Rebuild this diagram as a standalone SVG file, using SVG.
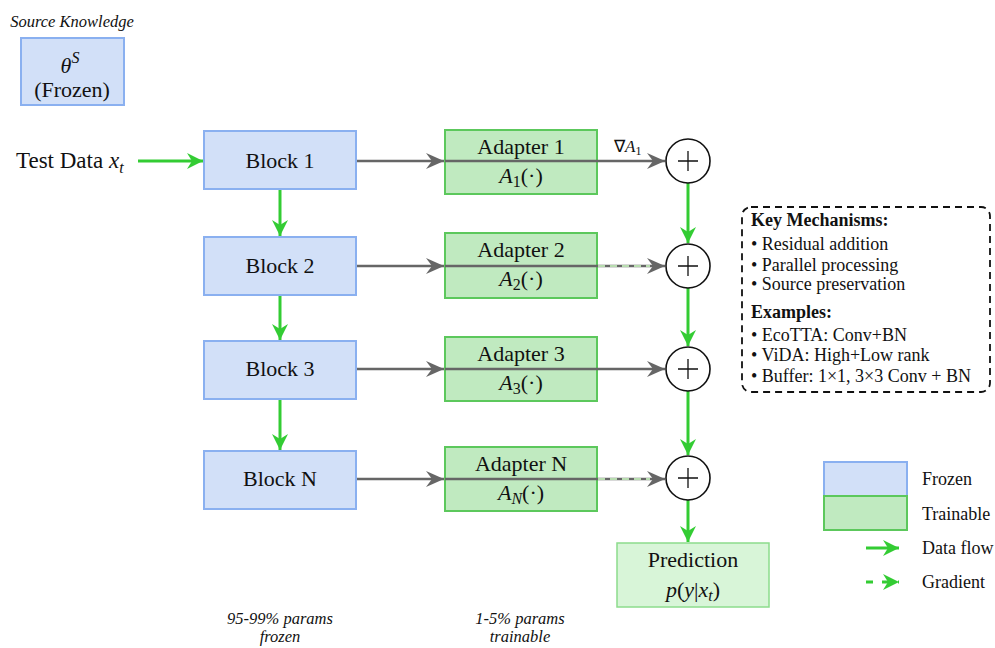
<svg xmlns="http://www.w3.org/2000/svg" width="995" height="648" viewBox="0 0 995 648" font-family="'Liberation Serif', 'Times New Roman', serif">
  <style>
    text, tspan { font-family: "Liberation Serif", "Times New Roman", serif; }
    text { fill: #111; }
    .lbl { font-size: 22px; text-anchor: middle; font-family: "Liberation Serif", serif; }
    .math { font-style: italic; }
    .small { font-size: 18px; font-family: "Liberation Serif", serif; }
    .note { font-size: 16.5px; font-style: italic; text-anchor: middle; font-family: "Liberation Serif", serif; }
    .frozen { fill: #d2e0f8; stroke: #8ab0f0; stroke-width: 2; }
    .train { fill: #c0eac0; stroke: #5cc85c; stroke-width: 2; }
    .pred { fill: #d8f5d8; stroke: #8cdc8c; stroke-width: 1.5; }
    .flow { stroke: #33cc33; stroke-width: 3; fill: none; marker-end: url(#gHead); }
    .pass { stroke: #666; stroke-width: 2.5; fill: none; marker-end: url(#kHead); }
    .grad { stroke: #b8dcb0; stroke-width: 2; stroke-dasharray: 7 5; fill: none; }
    .sum { fill: #fff; stroke: #111; stroke-width: 1.6; }
  </style>
  <defs>
    <marker id="gHead" markerUnits="userSpaceOnUse" markerWidth="18" markerHeight="16" refX="16" refY="8" orient="auto">
      <path d="M0,0 L16,8 L0,16 L5,8 Z" fill="#33cc33"/>
    </marker>
    <marker id="kHead" markerUnits="userSpaceOnUse" markerWidth="20" markerHeight="16" refX="18" refY="8" orient="auto">
      <path d="M0,0 L18,8 L0,16 L6,8 Z" fill="#666"/>
    </marker>
  </defs>

  <rect width="995" height="648" fill="#fff"/>

  <!-- source parameters -->
  <g id="source">
    <text x="72" y="27" class="note">Source Knowledge</text>
    <rect x="21" y="38" width="103" height="67" class="frozen"/>
    <text x="70" y="73" class="lbl"><tspan class="math">θ</tspan><tspan class="math" font-size="16" dy="-10">S</tspan></text>
    <text x="72" y="97" class="lbl">(Frozen)</text>
  </g>

  <g id="input">
    <text x="16" y="168" style="font-size:23px">Test Data <tspan class="math">x</tspan><tspan class="math" font-size="16" dy="5">t</tspan></text>
  </g>

  <!-- connectors -->
  <g id="connectors">
    <!-- input and backbone flow -->
    <path d="M138,161 H203" class="flow"/>
    <path d="M280,190 V236" class="flow"/>
    <path d="M280,296 V340" class="flow"/>
    <path d="M280,400 V450" class="flow"/>
    <!-- block to adapter, adapter to sum -->
    <path d="M356,161 H444" class="pass"/>
    <path d="M445,161 H665" class="pass"/>
    <path d="M356,266 H444" class="pass"/>
    <path d="M445,266 H665" class="pass"/>
    <path d="M356,369 H444" class="pass"/>
    <path d="M445,369 H665" class="pass"/>
    <path d="M356,479 H444" class="pass"/>
    <path d="M445,479 H665" class="pass"/>
    <!-- gradient paths -->
    <path d="M598,266 H650" class="grad"/>
    <path d="M598,479 H650" class="grad"/>
    <!-- residual accumulation -->
    <path d="M688,183 V243" class="flow"/>
    <path d="M688,288 V346" class="flow"/>
    <path d="M688,391 V455" class="flow"/>
    <path d="M688,500 V542" class="flow"/>
  </g>

  <!-- backbone blocks -->
  <g id="block1"><rect x="204" y="131" width="152" height="58" class="frozen"/><text x="280" y="168" class="lbl">Block 1</text></g>
  <g id="block2"><rect x="204" y="237" width="152" height="58" class="frozen"/><text x="280" y="273" class="lbl">Block 2</text></g>
  <g id="block3"><rect x="204" y="341" width="152" height="58" class="frozen"/><text x="280" y="376" class="lbl">Block 3</text></g>
  <g id="blockN"><rect x="204" y="451" width="152" height="58" class="frozen"/><text x="280" y="486" class="lbl">Block N</text></g>

  <!-- adapters -->
  <g id="adapter1">
    <rect x="445" y="130" width="152" height="64" class="train"/>
    <text x="521" y="154" class="lbl">Adapter 1</text>
    <text x="521" y="183" class="lbl"><tspan class="math">A</tspan><tspan font-size="16" dy="4">1</tspan><tspan dy="-4">(·)</tspan></text>
  </g>
  <g id="adapter2">
    <rect x="445" y="233" width="152" height="65" class="train"/>
    <text x="521" y="257" class="lbl">Adapter 2</text>
    <text x="521" y="286" class="lbl"><tspan class="math">A</tspan><tspan font-size="16" dy="4">2</tspan><tspan dy="-4">(·)</tspan></text>
  </g>
  <g id="adapter3">
    <rect x="445" y="337" width="152" height="64" class="train"/>
    <text x="521" y="361" class="lbl">Adapter 3</text>
    <text x="521" y="390" class="lbl"><tspan class="math">A</tspan><tspan font-size="16" dy="4">3</tspan><tspan dy="-4">(·)</tspan></text>
  </g>
  <g id="adapterN">
    <rect x="445" y="447" width="152" height="64" class="train"/>
    <text x="521" y="471" class="lbl">Adapter N</text>
    <text x="521" y="500" class="lbl"><tspan class="math">A</tspan><tspan class="math" font-size="16" dy="4">N</tspan><tspan dy="-4">(·)</tspan></text>
  </g>
  <!-- pass-through lines drawn over the adapter fill -->
  <g id="through" stroke="#666" stroke-width="2.5">
    <path d="M445,161 H598"/>
    <path d="M445,266 H598"/>
    <path d="M445,369 H598"/>
    <path d="M445,479 H598"/>
  </g>

  <g id="gradLabel"><text x="614" y="152" style="font-size:17px"><tspan>∇</tspan><tspan class="math">A</tspan><tspan font-size="12" dy="3">1</tspan></text></g>

  <!-- summation nodes -->
  <g id="sum1"><circle cx="688" cy="161" r="22" class="sum"/><path d="M678,161 H698 M688,151 V171" stroke="#111" stroke-width="1.3"/></g>
  <g id="sum2"><circle cx="688" cy="266" r="22" class="sum"/><path d="M678,266 H698 M688,256 V276" stroke="#111" stroke-width="1.3"/></g>
  <g id="sum3"><circle cx="688" cy="369" r="22" class="sum"/><path d="M678,369 H698 M688,359 V379" stroke="#111" stroke-width="1.3"/></g>
  <g id="sumN"><circle cx="688" cy="478" r="22" class="sum"/><path d="M678,478 H698 M688,468 V488" stroke="#111" stroke-width="1.3"/></g>

  <g id="prediction">
    <rect x="617" y="543" width="152" height="64" class="pred"/>
    <text x="693" y="567" class="lbl">Prediction</text>
    <text x="693" y="597" class="lbl"><tspan class="math">p</tspan>(<tspan class="math">y</tspan>|<tspan class="math">x</tspan><tspan class="math" font-size="16" dy="4">t</tspan><tspan dy="-4">)</tspan></text>
  </g>

  <!-- mechanisms summary -->
  <g id="keybox">
    <rect x="742" y="207" width="248" height="185" rx="9" fill="none" stroke="#111" stroke-width="1.8" stroke-dasharray="7 5"/>
    <text x="751" y="226" class="small" font-weight="bold">Key Mechanisms:</text>
    <text x="751" y="250" class="small">• Residual addition</text>
    <text x="751" y="271" class="small">• Parallel processing</text>
    <text x="751" y="290" class="small">• Source preservation</text>
    <text x="751" y="318" class="small" font-weight="bold">Examples:</text>
    <text x="751" y="341" class="small">• EcoTTA: Conv+BN</text>
    <text x="751" y="361" class="small">• ViDA: High+Low rank</text>
    <text x="751" y="382" class="small">• Buffer: 1×1, 3×3 Conv + BN</text>
  </g>

  <!-- legend -->
  <g id="legend">
    <rect x="824" y="462" width="83" height="34" class="frozen"/>
    <rect x="824" y="496" width="83" height="34" class="train"/>
    <text x="922" y="485" class="small">Frozen</text>
    <text x="922" y="520" class="small">Trainable</text>
    <path d="M866,548 H899" class="flow"/>
    <text x="922" y="554" class="small">Data flow</text>
    <path d="M866,582 H899" stroke="#33cc33" stroke-width="3" stroke-dasharray="7 9" fill="none" marker-end="url(#gHead)"/>
    <text x="922" y="588" class="small">Gradient</text>
  </g>

  <g id="notes">
    <text x="280" y="624" class="note">95-99% params</text>
    <text x="280" y="642" class="note">frozen</text>
    <text x="520" y="624" class="note">1-5% params</text>
    <text x="520" y="642" class="note">trainable</text>
  </g>
</svg>
